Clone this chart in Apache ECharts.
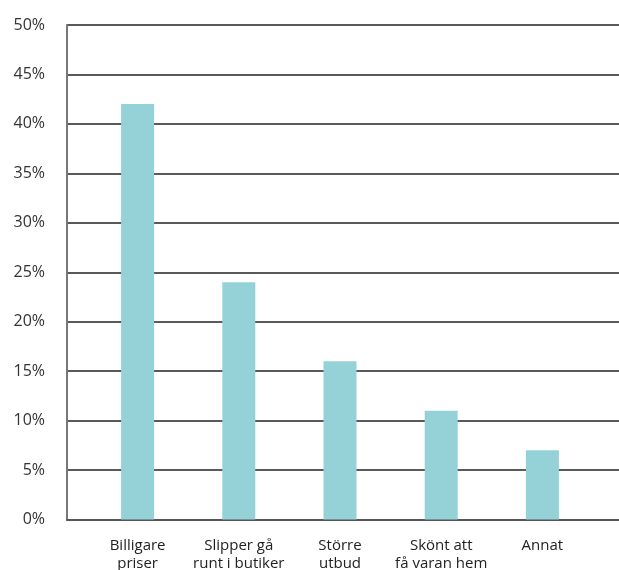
<!DOCTYPE html>
<html>
<head>
<meta charset="utf-8">
<style>
  html, body { margin: 0; padding: 0; background: #fff; }
  #chart { width: 619px; height: 570px; }
</style>
<script src="https://cdn.jsdelivr.net/npm/echarts@6/dist/echarts.min.js"></script>
</head>
<body>
<div id="chart"></div>
<script>
// Reasons for shopping online (share of respondents, %)
const categories = ['Billigare\npriser', 'Slipper gå\nrunt i butiker', 'Större\nutbud', 'Skönt att\nfå varan hem', 'Annat'];
const shares = [42, 24, 16, 11, 7];
const yMin = 0;
const yMax = 50;
const yStep = 5;

const chart = echarts.init(document.getElementById('chart'), null, { renderer: 'canvas' });

const fontFamily = '"Open Sans", "Noto Sans", sans-serif';

chart.setOption({
  animation: false,
  backgroundColor: '#ffffff',
  grid: [
    // frame: value axis, gridlines and baseline
    { left: 67, right: 0, top: 25, bottom: 50.5, containLabel: false, outerBoundsMode: 'none' },
    // bars and category labels (labels may run to the bottom edge)
    { left: 87, width: 506, top: 25, bottom: 50.5, containLabel: false, outerBoundsMode: 'none' }
  ],
  xAxis: [
    {
      type: 'category',
      gridIndex: 0,
      data: categories,
      axisLine: { show: true, lineStyle: { color: '#555555', width: 2 } },
      axisTick: { show: false },
      axisLabel: { show: false },
      splitLine: { show: false }
    },
    {
      type: 'category',
      gridIndex: 1,
      data: categories,
      axisLine: { show: false },
      axisTick: { show: false },
      axisLabel: {
        show: true,
        interval: 0,
        margin: 17,
        fontFamily: fontFamily,
        fontSize: 15,
        lineHeight: 18,
        color: '#222222',
        align: 'center'
      }
    }
  ],
  yAxis: [
    {
      type: 'value',
      gridIndex: 0,
      min: yMin,
      max: yMax,
      interval: yStep,
      axisLine: { show: true, lineStyle: { color: '#777777', width: 2 } },
      axisTick: { show: false },
      axisLabel: {
        margin: 22,
        fontFamily: fontFamily,
        fontSize: 16,
        color: '#333333',
        formatter: '{value}%'
      },
      splitLine: { show: true, lineStyle: { color: '#222222', width: 1.5 } }
    },
    {
      type: 'value',
      gridIndex: 1,
      min: yMin,
      max: yMax,
      interval: yStep,
      show: false
    }
  ],
  series: [
    {
      type: 'bar',
      xAxisIndex: 1,
      yAxisIndex: 1,
      data: shares,
      barWidth: 33,
      itemStyle: { color: '#95d2d8' },
      z: 3
    }
  ]
});
</script>
</body>
</html>
